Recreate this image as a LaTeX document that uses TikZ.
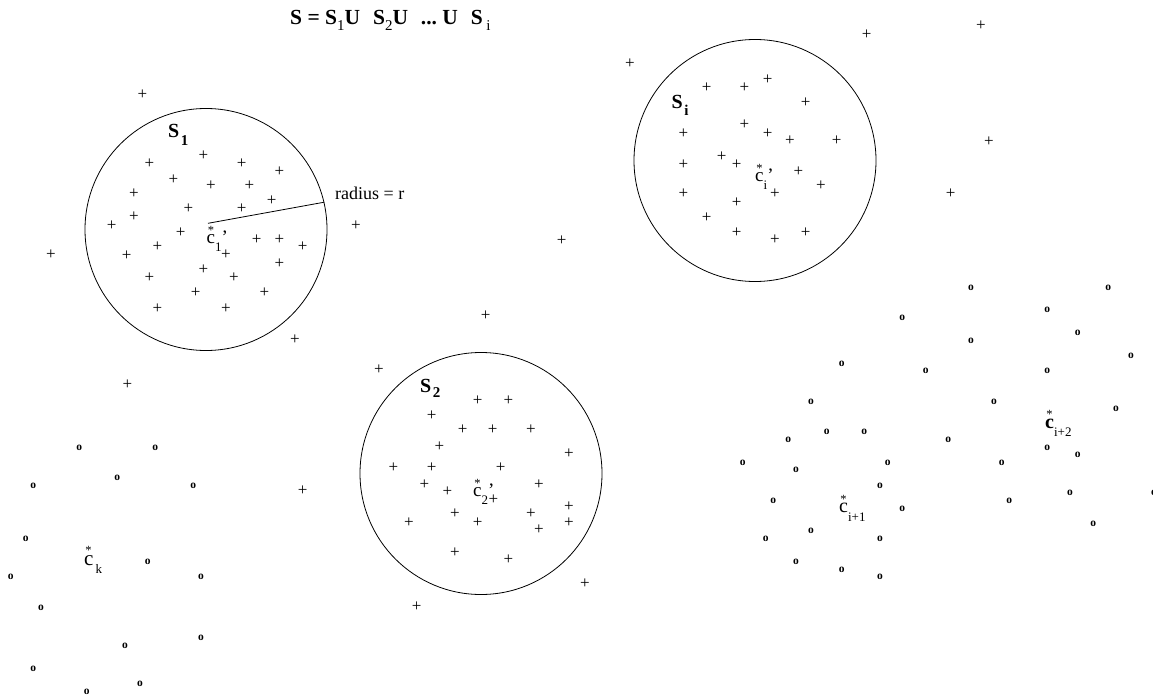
\documentclass[tikz,border=0pt]{standalone}
\usepackage{fontspec}
\setmainfont{Liberation Serif}
\newcommand{\tsub}[1]{\raisebox{-0.25em}{\fontsize{15}{15}\selectfont\mdseries #1}}
\newcommand{\slab}[2]{{\fontsize{20}{20}\selectfont\bfseries S\hspace{0.08em}\raisebox{#2}{\fontsize{15}{15}\selectfont #1}}}
\newcommand{\cst}[4]{{\fontsize{#3}{#3}\selectfont\makebox[0pt][l]{\hspace{0.06em}\raisebox{0.48em}{\fontsize{12.5}{12.5}\selectfont *}}#4c\raisebox{-0.42em}{\fontsize{13}{13}\selectfont\mdseries #1}#2}}
\begin{document}
\begin{tikzpicture}[x=1pt,y=-1pt,
  plus/.style={inner sep=0pt,font=\fontsize{17}{17}\selectfont},
  omark/.style={inner sep=0pt,font=\fontsize{11.5}{11.5}\selectfont\bfseries},
  cluster/.style={circle,draw,line width=0.8pt,minimum size=242pt,inner sep=0pt},
  lab/.style={inner sep=0pt,anchor=base west}]
\useasboundingbox (0,0) rectangle (1153,698);
% title
\node[lab] (title) at (290,25) {\fontsize{21.5}{21.5}\selectfont\bfseries S = S\tsub{1}U\hspace{0.6em}S\tsub{2}U\hspace{0.6em}...\ U\hspace{0.6em}S\,\tsub{i}};
% circles
\node[cluster] (S1) at (206,229.5) {};
\node[cluster] (Si) at (755,160.5) {};
\node[cluster] (S2) at (481,473.5) {};
% cluster labels
\node[lab] (lS1) at (168,138) {\slab{1}{-0.37em}};
\node[lab] (lSi) at (671.5,108.3) {\slab{i}{-0.37em}};
\node[lab] (lS2) at (420,392) {\slab{2}{-0.27em}};
% centres
\node[lab] (c1) at (206.5,243.3) {\cst{1}{’}{19}{}};
\node[lab] (ci) at (755,181.7) {\cst{i}{’}{19}{}};
\node[lab] (c2) at (473,496.7) {\cst{2}{’}{19}{}};
\node[lab] (ck) at (84,565) {\cst{\,k}{}{21}{}};
\node[lab] (ci1) at (839,512.7) {\cst{i+1}{}{20}{}};
\node[lab] (ci2) at (1045,428.3) {\cst{i+2}{}{20}{\bfseries}};
% radius
\coordinate (rstart) at (208,223.3);
\draw[line width=0.8pt] (rstart) -- (S1.13.5);
\node[inner sep=0pt,anchor=base west,font=\fontsize{18}{18}\selectfont] (rlab) at (335,199) {radius = r};
% plus points
\foreach \x/\y [count=\n] in {
203.3/156, 149.3/164, 241.7/164, 279.3/171.3, 173.3/179.3, 211/186, 249.3/186, 134/194,
271.7/201, 188.3/209, 241.7/209, 134/216.7, 111.7/225.7, 180.7/232.3, 157.3/246.7, 126.7/255.7,
256.7/240, 279.3/240, 302.7/246.7, 226/255, 279.3/263.3, 203.3/270, 234/277.7, 149.3/277.7,
195.7/292.7, 264.3/292.7, 157.3/308.3, 226/308.3, 295/339.3, 356/225.7,
630/64, 706.7/87.3, 744.3/87.3, 767.7/80, 805.7/102.7, 683.3/133.3, 744.3/125, 767.7/133.3,
790/141, 836.7/141, 683.3/164.3, 721.7/156.7, 736.7/164.3, 798.3/171.7, 821/186, 683.3/194,
775/194, 736.7/202.7, 706.7/217.3, 736.7/232.3, 775/240, 805.7/232.3,
379/370, 477.7/400.7, 508.3/400.7, 431.7/415.7, 462.7/430, 492.7/430, 531/430, 439.3/446.7,
569/453.3, 393.3/467.7, 431.7/467.7, 500.7/467.7, 424.3/484.3, 447.3/491.7, 539/484.3, 493.3/499.3,
455/514, 531/514, 569/506.7, 409/522.3, 477.7/522.3, 569/522.3, 539/530, 455/552.3,
508.3/560, 585/583.3, 416.7/606.7,
866.7/34.3, 981/26, 989/141.7, 950.7/194, 142.3/95, 51/255, 127.3/385, 485.7/316,
302.7/491, 561.7/240.7}
  \node[plus] (p\n) at (\x,\y) {+};
% o points
\foreach \x/\y [count=\n] in {
79.3/447.7, 155.3/447.7, 33.3/486, 117.3/478, 193.3/486, 25.7/539, 147.7/562.3, 10.7/576.7,
201/576.7, 41/608.3, 201/638.3, 125/646, 33.3/669, 140/684, 86.7/691.7,
971/287.7, 1108.3/287.7, 902.3/317.7, 1047.3/310, 1077.7/332.7, 971/340.7, 1131/356, 841.7/364,
925.7/370.7, 1047.3/370.7, 811/401.7, 994/401.7, 1116/409, 826.7/432.3, 864.3/432.3, 788.3/440,
948.3/440, 1047.3/447.7, 1077.7/455, 742.7/462.7, 887.7/462.7, 1001.7/462.7, 796/470, 880/486,
773.3/500.7, 902.3/509, 1009.3/500.7, 1070/492.7, 1154/492.7, 811/531, 765.7/539, 880/539,
1093.3/524, 796/562.3, 841.7/570, 880/576.7}
  \node[omark] (o\n) at (\x,\y) {o};
\end{tikzpicture}
\end{document}
